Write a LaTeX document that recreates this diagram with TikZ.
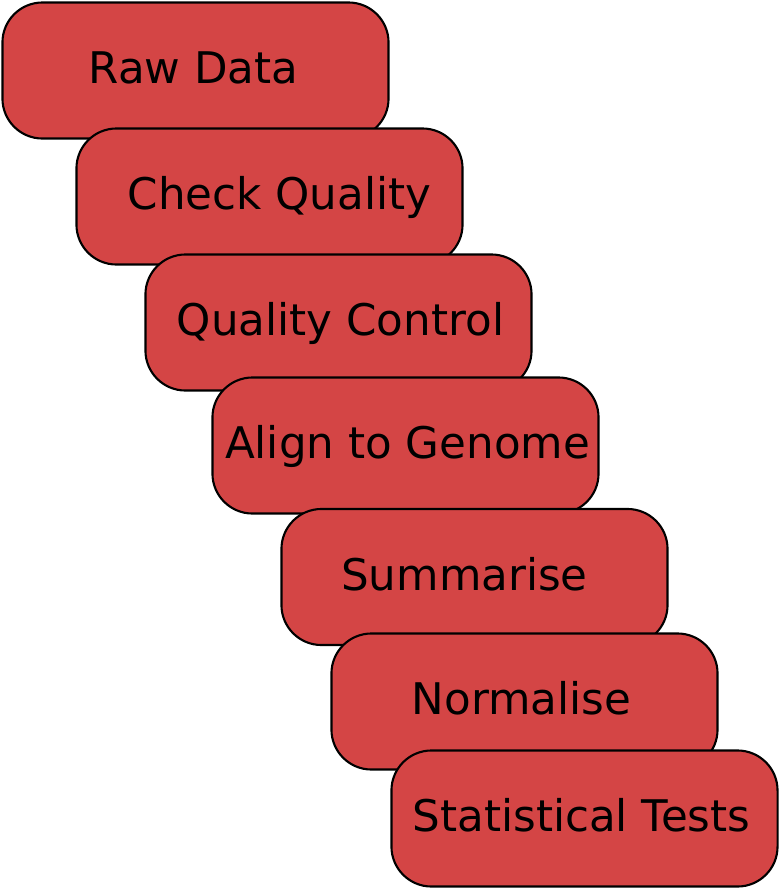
\documentclass[tikz,border=0pt]{standalone}
\usepackage{fontspec}
\setmainfont{DejaVu Sans}
\definecolor{boxred}{HTML}{D44545}
\begin{document}
\begin{tikzpicture}[x=0.025cm,y=-0.025cm,
  stepbox/.style={draw=black,line width=1.5pt,fill=boxred,rounded corners=1cm,
    minimum width=9.65cm,minimum height=3.4cm,inner sep=0pt,
    text height=0.8cm,text depth=0.15cm,
    font=\fontsize{31}{37}\selectfont}]
\useasboundingbox (0,0) rectangle (780,890);
\node [stepbox] (raw) at (195.5,70.5) {Raw Data\hspace*{0.1cm}};
\node [stepbox] (check) at (269.5,196.5) {\hspace*{0.5cm}Check Quality};
\node [stepbox] (qc) at (338.5,322.5) {\hspace*{0.1cm}Quality Control};
\node [stepbox] (align) at (405.5,445.5) {\hspace*{0.1cm}Align to Genome};
\node [stepbox] (summ) at (474.5,577) {Summarise\hspace*{0.5cm}};
\node [stepbox] (norm) at (524.5,701.5) {Normalise\hspace*{0.15cm}};
\node [stepbox] (stats) at (584.5,818.5) {Statistical Tests\hspace*{0.15cm}};
\end{tikzpicture}
\end{document}
